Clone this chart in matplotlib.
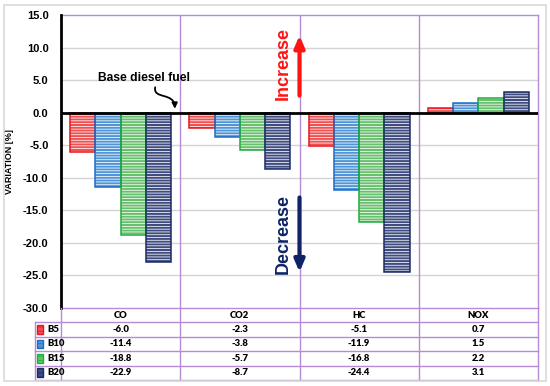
import matplotlib
matplotlib.use("Agg")
import matplotlib.pyplot as plt
from matplotlib.patches import Rectangle, FancyArrowPatch
from matplotlib.path import Path

# ---- data ----
pollutants = ["CO", "CO2", "HC", "NOX"]
blends = ["B5", "B10", "B15", "B20"]
b5 = [-6.0, -2.3, -5.1, 0.7]
b10 = [-11.4, -3.8, -11.9, 1.5]
b15 = [-18.8, -5.7, -16.8, 2.2]
b20 = [-22.9, -8.7, -24.4, 3.1]
series = [b5, b10, b15, b20]

face_cols = ["#f25050", "#4f95d8", "#66c06c", "#3e4c80"]
edge_cols = ["#e8141e", "#1f6cc4", "#1fae3c", "#1c2a66"]
purple = "#b58ad6"

plt.rcParams["font.family"] = ["Liberation Sans", "DejaVu Sans"]
plt.rcParams["hatch.linewidth"] = 0.55

W, H = 550, 386
fig = plt.figure(figsize=(W / 100, H / 100), dpi=100)

def px_box(x0, y0, x1, y1):
    return [x0 / W, 1 - y1 / H, (x1 - x0) / W, (y1 - y0) / H]

# outer light frame
fig.patches.append(Rectangle((4 / W, 1 - 381 / H), 542 / W, 376 / H,
                             transform=fig.transFigure, fill=False,
                             edgecolor="#d9d9d9", lw=1.2))

ax = fig.add_axes(px_box(61, 15, 538, 308))
ax.set_xlim(-0.5, 3.5)
ax.set_ylim(-30, 15)

bw = 0.212
for i, vals in enumerate(series):
    xs = [k + (i - 1.5) * bw for k in range(len(pollutants))]
    ax.bar(xs, vals, width=bw, color=face_cols[i], edgecolor="white",
           hatch="------", linewidth=0, zorder=3)
    ax.bar(xs, vals, width=bw, fill=False, edgecolor=edge_cols[i],
           linewidth=1.1, zorder=4)

ax.set_yticks(range(-30, 16, 5))
ax.set_yticklabels([f"{v:.1f}" for v in range(-30, 16, 5)],
                   fontsize=8, fontweight="bold")
ax.tick_params(axis="y", length=0, pad=9)
ax.set_xticks([])
for v in range(-25, 15, 5):
    if v != 0:
        ax.axhline(v, color="#d4d4d4", lw=1, zorder=1)
ax.axhline(0, color="black", lw=2, zorder=5)
for xv in [0.5, 1.5, 2.5]:
    ax.axvline(xv, color=purple, lw=1, zorder=2)
for side in ["top", "right", "bottom"]:
    ax.spines[side].set_color(purple)
    ax.spines[side].set_linewidth(1)
ax.spines["left"].set_color("black")
ax.spines["left"].set_linewidth(2)
ax.spines["left"].set_zorder(6)
ax.set_ylabel("VARIATION [%]", fontsize=6.5, fontweight="bold", labelpad=2)
ax.yaxis.set_label_coords(-0.098, 0.5)

# annotations
ax.text(0.2, 5.4, "Base diesel fuel", fontsize=8.7, fontweight="bold",
        ha="center", va="center", zorder=7)
curve = Path([(0.29, 3.9), (0.27, 2.0), (0.45, 3.2), (0.455, 0.6)],
             [Path.MOVETO, Path.CURVE4, Path.CURVE4, Path.CURVE4])
ax.add_patch(FancyArrowPatch(path=curve, arrowstyle="-|>", mutation_scale=8,
                             color="black", lw=1.3, zorder=7))

ax.annotate("", xy=(1.5, 12.3), xytext=(1.5, 2.2),
            arrowprops=dict(arrowstyle="-|>,head_width=0.3,head_length=0.7",
                            color="#ff1414", lw=3, mutation_scale=10), zorder=7)
ax.text(1.36, 7.6, "Increase", rotation=90, color="#ff1414", fontsize=13,
        fontweight="bold", ha="center", va="center", zorder=7)
ax.annotate("", xy=(1.5, -24.9), xytext=(1.5, -12.6),
            arrowprops=dict(arrowstyle="-|>,head_width=0.3,head_length=0.7",
                            color="#0f2366", lw=3, mutation_scale=10), zorder=7)
ax.text(1.36, -18.6, "Decrease", rotation=90, color="#0f2366", fontsize=13,
        fontweight="bold", ha="center", va="center", zorder=7)

# ---- data table ----
tx0 = -0.5 - 26 / 119.25
tab = fig.add_axes(px_box(35, 308, 538, 380))
tab.set_xlim(tx0, 3.5)
tab.set_ylim(5, 0)
tab.axis("off")
lw = 1
tab.plot([-0.5, 3.5], [1, 1], color=purple, lw=lw)
tab.plot([tx0, -0.5], [1, 1], color=purple, lw=lw)
for r in range(2, 6):
    tab.plot([tx0, 3.5], [r, r], color=purple, lw=lw, clip_on=False)
tab.plot([tx0, tx0], [1, 5], color=purple, lw=lw, clip_on=False)
for xv in [-0.5, 0.5, 1.5, 2.5, 3.5]:
    tab.plot([xv, xv], [0, 5], color=purple, lw=lw, clip_on=False)

tfont = dict(fontsize=6.8, fontweight="heavy", ha="center", va="center",
             family=["Lato", "DejaVu Sans"])
for k, name in enumerate(pollutants):
    tab.text(k, 0.5, name, **tfont)
for i, vals in enumerate(series):
    for k, v in enumerate(vals):
        tab.text(k, i + 1.5, f"{v:.1f}", **tfont)
    sq = 6 / 119.25
    tab.add_patch(Rectangle((tx0 + 0.02, i + 1.5 - 0.3), sq, 0.6,
                            facecolor=face_cols[i], edgecolor=edge_cols[i],
                            hatch="----", lw=1))
    tab.text(tx0 + 0.1, i + 1.5, blends[i], fontsize=6.8, fontweight="heavy",
             ha="left", va="center", family=["Lato", "DejaVu Sans"])

fig.savefig("out.png", dpi=100)
